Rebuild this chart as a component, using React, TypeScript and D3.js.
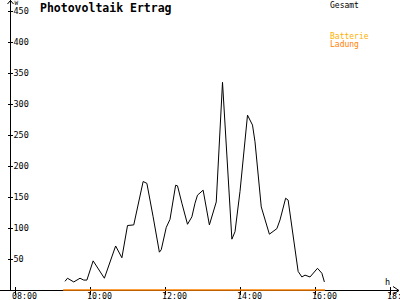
import React from "react";
import * as d3 from "d3";

const W = 400;
const H = 300;

// Gesamt (total PV yield), time "HH:MM" and watts
const gesamtTimes = [
  "09:20", "09:24", "09:34", "09:44", "09:50", "09:55", "10:05", "10:23", "10:41", "10:51",
  "11:00", "11:10", "11:25", "11:31", "11:41", "11:51", "11:54", "12:02", "12:08", "12:17",
  "12:20", "12:27", "12:36", "12:43", "12:48", "12:52", "13:01", "13:11", "13:22", "13:32",
  "13:47", "13:52", "14:00", "14:12", "14:20", "14:24", "14:34", "14:47", "14:59", "15:04",
  "15:13", "15:17", "15:33", "15:39", "15:44", "15:52", "16:04", "16:11", "16:15",
];
const gesamtValues = [
  14, 19, 13, 19, 16, 16, 47, 19, 71, 52,
  104, 105, 175, 172, 118, 61, 65, 101, 114, 169,
  168, 140, 106, 118, 140, 153, 161, 105, 142, 335,
  82, 94, 159, 282, 266, 239, 134, 90, 99, 113,
  148, 145, 30, 21, 24, 21, 35, 27, 13,
];

// Batterie Ladung (charging), flat at zero
const ladungTimes = ["09:17", "16:16"];
const ladungValues = [0, 0];

const yTicks = [50, 100, 150, 200, 250, 300, 350, 400, 450];
const xTicks = [8, 10, 12, 14, 16, 18];
const xTickLabels = ["08:00", "10:00", "12:00", "14:00", "16:00", "18:00"];

const title = "Photovoltaik Ertrag";
const legend = [
  { label: "Gesamt", color: "#000000" },
  { label: "Batterie", color: "#FFB000" },
  { label: "Ladung", color: "#FF8000" },
];

const toHours = (s: string) => {
  const [h, m] = s.split(":").map(Number);
  return h + m / 60;
};

export default function App() {
  const x = d3.scaleLinear().domain([8, 18]).range([15, 390]);
  const y = d3.scaleLinear().domain([0, 450]).range([290, 11]);

  const line = d3
    .line<[number, number]>()
    .x((d) => x(d[0]))
    .y((d) => y(d[1]))
    .curve(d3.curveLinear);

  const gesamt: [number, number][] = gesamtTimes.map((t, i) => [toHours(t), gesamtValues[i]]);
  const ladung: [number, number][] = ladungTimes.map((t, i) => [toHours(t), ladungValues[i]]);

  const font = "'DejaVu Sans Mono', monospace";
  const axisY = Math.round(y(0)) + 0.5;
  const axisX = 10.5;

  return (
    <svg
      width={W}
      height={H}
      style={{ position: "absolute", left: 0, top: 0, background: "#fff" }}
      fontFamily={font}
    >
      <rect x={0} y={0} width={W} height={H} fill="#fff" />
      {/* y axis */}
      <line x1={axisX} y1={0} x2={axisX} y2={axisY} stroke="#000" strokeWidth={1} />
      <path d={`M${axisX - 3},4 L${axisX},0.5 L${axisX + 3},4`} fill="none" stroke="#000" />
      <text x={14.5} y={5} fontSize={6} fill="#000">W</text>
      {yTicks.map((v) => (
        <g key={v}>
          <line x1={8} x2={13} y1={Math.round(y(v)) + 0.5} y2={Math.round(y(v)) + 0.5} stroke="#000" />
          <text x={13.5} y={y(v) + 3} fontSize={8.5} fill="#000">
            {v}
          </text>
        </g>
      ))}
      {/* x axis */}
      <line x1={0} x2={399} y1={axisY} y2={axisY} stroke="#000" />
      <path d={`M393,${axisY - 4} L399,${axisY} L393,${axisY + 4}`} fill="none" stroke="#000" />
      <text x={385} y={285} fontSize={8.5} fill="#000">h</text>
      {xTicks.map((t, i) => (
        <g key={t}>
          <line
            x1={Math.round(x(t)) + 0.5}
            x2={Math.round(x(t)) + 0.5}
            y1={287}
            y2={295}
            stroke="#000"
          />
          <text x={x(t) - 3} y={299} fontSize={8.3} fill="#000">
            {xTickLabels[i]}
          </text>
        </g>
      ))}
      {/* series */}
      <path d={line(ladung) || ""} fill="none" stroke="#FF8000" strokeWidth={1.5} />
      <path d={line(gesamt) || ""} fill="none" stroke="#000" strokeWidth={1} />
      {/* title */}
      <text x={40} y={12} fontSize={11.5} fontWeight="bold" fill="#000">
        {title}
      </text>
      {/* legend */}
      <text x={330} y={8} fontSize={8} fill={legend[0].color}>{legend[0].label}</text>
      <text x={330} y={39} fontSize={8} fill={legend[1].color}>{legend[1].label}</text>
      <text x={330} y={47} fontSize={8} fill={legend[2].color}>{legend[2].label}</text>
    </svg>
  );
}
